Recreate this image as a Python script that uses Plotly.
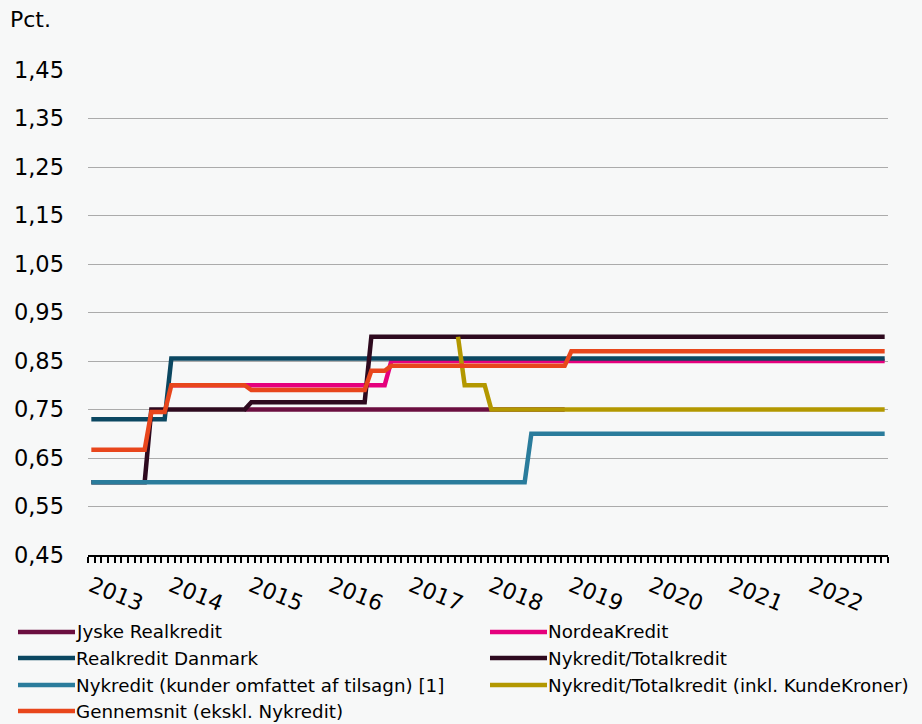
import plotly.graph_objects as go

# ---- data (monthly, Jan 2013 .. Dec 2022) ----
N = 120
month_index = list(range(N))
year_labels = ["2013", "2014", "2015", "2016", "2017", "2018", "2019", "2020", "2021", "2022"]
year_positions = [0, 12, 24, 36, 48, 60, 72, 84, 96, 108]

jyske = [None] * 23 + [0.75] * 49 + [None] * 48
nordea = [None] * 12 + [0.80] * 33 + [0.85] * 75
realkredit = [0.73] * 12 + [0.855] * 108
nykredit_total = [0.60] * 9 + [0.75] * 15 + [0.765] * 18 + [0.90] * 78
nykredit_kunder = [0.60] * 66 + [0.70] * 54
nykredit_kundekroner = [None] * 55 + [0.90] + [0.80] * 4 + [0.75] * 60
gennemsnit = [0.667] * 9 + [0.745] * 3 + [0.80] * 12 + [0.79] * 18 + [0.83] * 3 + [0.84] * 27 + [0.87] * 48

series_names = [
    "Jyske Realkredit",
    "NordeaKredit",
    "Realkredit Danmark",
    "Nykredit/Totalkredit",
    "Nykredit (kunder omfattet af tilsagn) [1]",
    "Nykredit/Totalkredit (inkl. KundeKroner)",
    "Gennemsnit (ekskl. Nykredit)",
]
series_values = [jyske, nordea, realkredit, nykredit_total, nykredit_kunder,
                 nykredit_kundekroner, gennemsnit]
series_colors = ["#6B0F40", "#E5007D", "#0B4761", "#2E0A1F", "#2A7C9C", "#B39800", "#E8461C"]

y_ticks = [0.45, 0.55, 0.65, 0.75, 0.85, 0.95, 1.05, 1.15, 1.25, 1.35, 1.45]

# ---- figure ----
W, H = 922, 724
L, R, T, B = 88, 34, 70, 169
PW, PH = W - L - R, H - T - B
FONT = "DejaVu Sans, Liberation Sans, Arial, sans-serif"
BG = "#F7F8F8"
LW = 4.5

fig = go.Figure()
for name, vals, col in zip(series_names, series_values, series_colors):
    fig.add_trace(go.Scatter(
        x=month_index, y=vals, name=name, mode="lines",
        line=dict(color=col, width=LW), connectgaps=False, showlegend=False,
    ))


def px_x(px):
    return (px - L) / PW


def px_y(py):
    return (T + PH - py) / PH


shapes = []
annotations = []
col_x = [18, 490]
row_y = [632, 658, 685, 711]
for i, (name, col) in enumerate(zip(series_names, series_colors)):
    cx = col_x[i % 2]
    ry = row_y[i // 2]
    shapes.append(dict(type="line", xref="paper", yref="paper",
                       x0=px_x(cx), x1=px_x(cx + 57), y0=px_y(ry), y1=px_y(ry),
                       line=dict(color=col, width=LW)))
    annotations.append(dict(xref="paper", yref="paper", x=px_x(cx + 56), y=px_y(ry),
                            xanchor="left", yanchor="middle", showarrow=False,
                            text=name, font=dict(family=FONT, size=18.3, color="#000000")))

annotations.append(dict(xref="paper", yref="paper", x=px_x(8), y=px_y(20),
                        xanchor="left", yanchor="middle", showarrow=False,
                        text="Pct.", font=dict(family=FONT, size=22, color="#000000")))

fig.update_layout(
    width=W, height=H,
    margin=dict(l=L, r=R, t=T, b=B),
    paper_bgcolor=BG, plot_bgcolor=BG,
    separators=",.",
    showlegend=False,
    font=dict(family=FONT, size=22, color="#000000"),
    shapes=shapes,
    annotations=annotations,
)
fig.update_xaxes(
    range=[-0.5, N - 0.5],
    tickmode="array", tickvals=year_positions, ticktext=year_labels,
    tickangle=22, ticks="", showgrid=False, zeroline=False,
    showline=True, linecolor="#000000", linewidth=2, ticklabelstandoff=8,
    tickfont=dict(family=FONT, size=22, color="#000000"),
    minor=dict(tickmode="linear", tick0=-0.5, dtick=1, ticks="outside",
               ticklen=6, tickwidth=1.5, tickcolor="#000000", showgrid=False),
)
fig.update_yaxes(
    range=[0.45, 1.45], tickmode="array", tickvals=y_ticks, tickformat=".2f",
    showgrid=True, gridcolor="#ABABAB", gridwidth=1, zeroline=False, showline=False,
    ticks="", ticklabelstandoff=23,
    tickfont=dict(family=FONT, size=22.5, color="#000000"),
)

fig.write_html("out.html", config={"displayModeBar": False},
               post_script="document.body.style.margin='0';")
